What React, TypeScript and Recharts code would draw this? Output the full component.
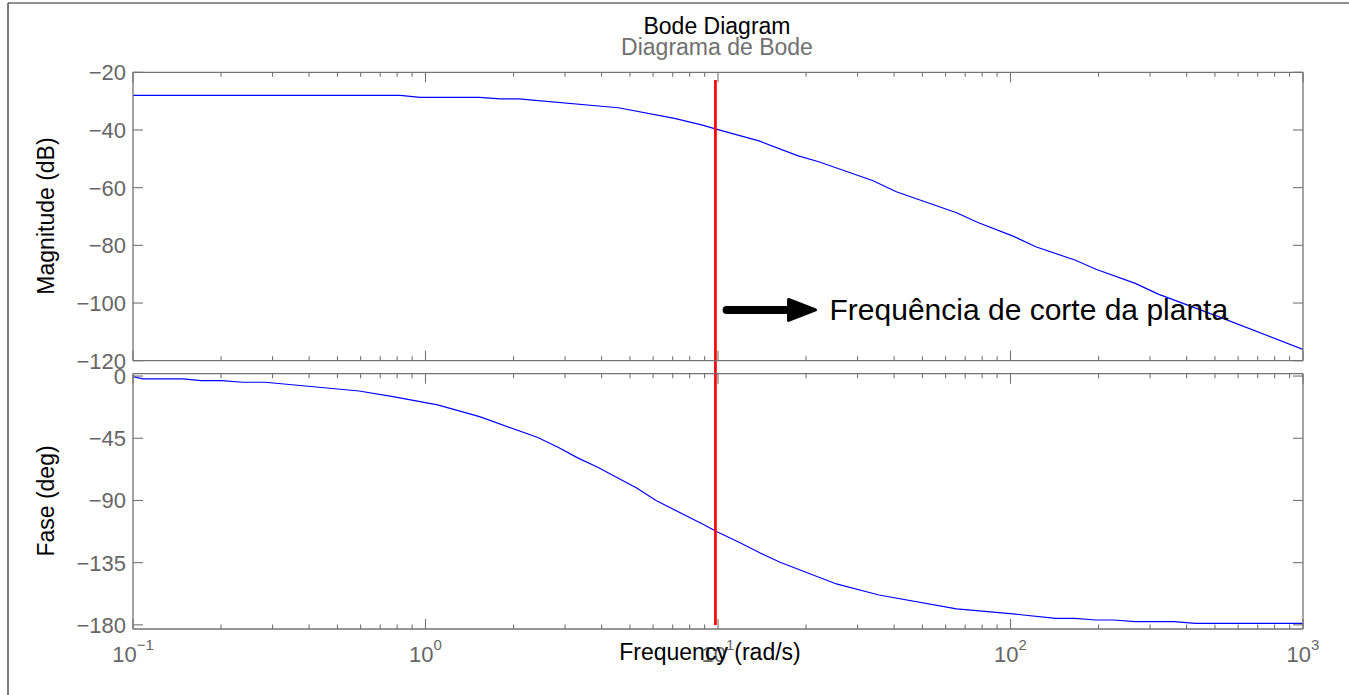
import React from "react";
import { LineChart, Line, XAxis, YAxis, ReferenceLine } from "recharts";

// magnitude curve (rad/s, dB)
const magFreq = [0.1, 0.82, 0.96, 1.53, 1.8, 2.08, 4.56, 7.1, 8.85, 10, 13.8, 18.7, 22.1, 33.9, 40.7, 65.4, 77.4, 102, 122, 166, 196, 267, 320, 514, 1000];
const magDb = [-28, -28, -28.7, -28.7, -29.2, -29.2, -32.3, -36, -38.3, -39.9, -43.8, -48.9, -51, -57.6, -61.4, -68.7, -72.1, -76.8, -80.5, -85.1, -88.3, -93.2, -96.9, -104.7, -116.1];

// phase curve (rad/s, deg)
const phaseFreq = [0.1, 0.108, 0.148, 0.171, 0.201, 0.237, 0.283, 0.593, 0.774, 1.1, 1.53, 2.41, 2.84, 3.3, 3.88, 5.29, 6.14, 8.85, 10, 11.8, 14, 16.3, 25.4, 35.5, 65.4, 102, 143, 166, 196, 225, 267, 362, 429, 1000];
const phaseDeg = [-0.4, -2.1, -2.1, -3.3, -3.3, -4.5, -4.5, -10.8, -14.9, -20.9, -29.4, -44.3, -51.5, -59, -66, -81.2, -90.1, -107, -113, -120.3, -128.2, -134.7, -150.4, -158.4, -168.5, -172.1, -175.3, -175.3, -176.5, -176.5, -177.7, -177.7, -178.9, -178.9];

const decadeTicks = [0.1, 1, 10, 100, 1000];
const decadeExp = ["\u22121", "0", "1", "2", "3"];
const xTicks = [
  0.1, 0.2, 0.3, 0.4, 0.5, 0.6, 0.7, 0.8, 0.9,
  1, 2, 3, 4, 5, 6, 7, 8, 9,
  10, 20, 30, 40, 50, 60, 70, 80, 90,
  100, 200, 300, 400, 500, 600, 700, 800, 900,
  1000,
];
const magTicks = [-120, -100, -80, -60, -40, -20];
const phaseTicks = [-180, -135, -90, -45, 0];

const cutoffFreq = 9.8;
const arrowStart = 10.7;
const arrowEnd = 17.7;
const arrowDb = -102.4;

const magData = magFreq.map((f, i) => ({ f, v: magDb[i] }));
const phaseData = phaseFreq.map((f, i) => ({ f, v: phaseDeg[i] }));

const W = 1349;
const H = 695;
const FONT = '"Liberation Sans", Arial, Helvetica, sans-serif';
const AXIS = "#737373";
const LABEL = "#666666";
const PLOT_L = 133;
const PLOT_R = 1303;

const fmtNum = (v: number) => (v < 0 ? "\u2212" + Math.abs(v) : String(v));

const XTick = (props: any) => {
  const { x, y, payload, side, labels } = props;
  const v = payload.value;
  const k = decadeTicks.findIndex((d) => Math.abs(d - v) / d < 1e-6);
  const len = k >= 0 ? 10 : 4.5;
  const dir = side === "top" ? 1 : -1;
  return (
    <g>
      <line x1={x} x2={x} y1={y} y2={y + dir * len} stroke={AXIS} strokeWidth={1.1} />
      {labels && k >= 0 && (
        <text x={x} y={y + 33} textAnchor="middle" fill={LABEL} fontFamily={FONT}>
          <tspan fontSize={22}>10</tspan>
          <tspan fontSize={15} dy={-12}>{decadeExp[k]}</tspan>
        </text>
      )}
    </g>
  );
};

const YTick = (props: any) => {
  const { x, y, payload, side } = props;
  const dir = side === "left" ? 1 : -1;
  return (
    <g>
      <line x1={x} x2={x + dir * 10} y1={y} y2={y} stroke={AXIS} strokeWidth={1.1} />
      {side === "left" && (
        <text x={x - 7} y={y} dy="0.358em" textAnchor="end" fontSize={22} fill={LABEL} fontFamily={FONT}>
          {fmtNum(payload.value)}
        </text>
      )}
    </g>
  );
};

const ArrowNote = (props: any) => {
  const { x1, y1, x2 } = props;
  return (
    <g>
      <line x1={x1} y1={y1} x2={x2} y2={y1} stroke="#000" strokeWidth={8} strokeLinecap="round" />
      <path
        d={`M${x2 - 2},${y1 - 10.5} L${x2 + 25},${y1} L${x2 - 2},${y1 + 10.5} Z`}
        fill="#000"
        stroke="#000"
        strokeWidth={3}
        strokeLinejoin="round"
      />
      <text x={x2 + 39} y={y1 + 10} fontSize={30} fill="#000" fontFamily={FONT}>
        Frequência de corte da planta
      </text>
    </g>
  );
};

function boxAxes(yDomain: number[], yTicks: number[], showXLabels: boolean) {
  const axisLine = { stroke: AXIS, strokeWidth: 1.3 };
  return [
    <XAxis
      key="xb"
      xAxisId="b"
      orientation="bottom"
      dataKey="f"
      type="number"
      scale="log"
      domain={[0.1, 1000]}
      allowDataOverflow
      ticks={xTicks}
      interval={0}
      height={1}
      tickSize={0}
      tickMargin={0}
      tickLine={false}
      axisLine={axisLine}
      tick={(p: any) => <XTick {...p} side="bottom" labels={showXLabels} />}
    />,
    <XAxis
      key="xt"
      xAxisId="t"
      orientation="top"
      dataKey="f"
      type="number"
      scale="log"
      domain={[0.1, 1000]}
      allowDataOverflow
      ticks={xTicks}
      interval={0}
      height={1}
      tickSize={0}
      tickMargin={0}
      tickLine={false}
      axisLine={axisLine}
      tick={(p: any) => <XTick {...p} side="top" labels={false} />}
    />,
    <YAxis
      key="yl"
      yAxisId="l"
      orientation="left"
      type="number"
      domain={yDomain}
      allowDataOverflow
      ticks={yTicks}
      interval={0}
      width={1}
      tickSize={0}
      tickMargin={0}
      tickLine={false}
      axisLine={axisLine}
      tick={(p: any) => <YTick {...p} side="left" />}
    />,
    <YAxis
      key="yr"
      yAxisId="r"
      orientation="right"
      type="number"
      domain={yDomain}
      allowDataOverflow
      ticks={yTicks}
      interval={0}
      width={1}
      tickSize={0}
      tickMargin={0}
      tickLine={false}
      axisLine={axisLine}
      tick={(p: any) => <YTick {...p} side="right" />}
    />,
  ];
}

const margins = (top: number, bottom: number) => ({
  top: top - 1,
  bottom: H - bottom - 1,
  left: PLOT_L - 1,
  right: W - PLOT_R - 1,
});

export default function App() {
  const layer: React.CSSProperties = { position: "absolute", left: 0, top: 0 };
  return (
    <div style={{ position: "absolute", left: 0, top: 0, width: W, height: H, background: "#fff", fontFamily: FONT }}>
      <div style={layer}>
        <LineChart width={W} height={H} data={magData} margin={margins(72.3, 360.7)}>
          {boxAxes([-120, -20], magTicks, false)}
          <Line
            xAxisId="b"
            yAxisId="l"
            type="linear"
            dataKey="v"
            stroke="#0000ff"
            strokeWidth={1.2}
            dot={false}
            isAnimationActive={false}
          />
          <ReferenceLine
            xAxisId="b"
            yAxisId="l"
            segment={[{ x: cutoffFreq, y: -22.7 }, { x: cutoffFreq, y: -125 }]}
            stroke="#ff0000"
            strokeWidth={2.7}
            ifOverflow="visible"
          />
          <ReferenceLine
            xAxisId="b"
            yAxisId="l"
            segment={[{ x: arrowStart, y: arrowDb }, { x: arrowEnd, y: arrowDb }]}
            shape={(p: any) => <ArrowNote {...p} />}
          />
        </LineChart>
      </div>
      <div style={layer}>
        <LineChart width={W} height={H} data={phaseData} margin={margins(373.7, 629)}>
          {boxAxes([-183, 1.7], phaseTicks, true)}
          <Line
            xAxisId="b"
            yAxisId="l"
            type="linear"
            dataKey="v"
            stroke="#0000ff"
            strokeWidth={1.2}
            dot={false}
            isAnimationActive={false}
          />
          <ReferenceLine
            xAxisId="b"
            yAxisId="l"
            segment={[{ x: cutoffFreq, y: 1.7 }, { x: cutoffFreq, y: -180.2 }]}
            stroke="#ff0000"
            strokeWidth={2.7}
            ifOverflow="visible"
          />
        </LineChart>
      </div>
      <svg width={W} height={H} style={{ ...layer, pointerEvents: "none" }}>
        <line x1={8} y1={3} x2={8} y2={H} stroke="#222" strokeWidth={1.2} />
        <line x1={8} y1={3} x2={W} y2={3} stroke="#222" strokeWidth={1.2} />
        <text x={717} y={34} textAnchor="middle" fontSize={23} fill="#000" fontFamily={FONT}>
          Bode Diagram
        </text>
        <text x={717} y={55} textAnchor="middle" fontSize={23} fill="#707070" fontFamily={FONT}>
          Diagrama de Bode
        </text>
        <text x={710} y={660} textAnchor="middle" fontSize={23} fill="#000" fontFamily={FONT}>
          Frequency (rad/s)
        </text>
        <text
          x={54}
          y={216}
          transform="rotate(-90 54 216)"
          textAnchor="middle"
          fontSize={23}
          fill="#000"
          fontFamily={FONT}
        >
          Magnitude (dB)
        </text>
        <text
          x={54}
          y={501}
          transform="rotate(-90 54 501)"
          textAnchor="middle"
          fontSize={23}
          fill="#000"
          fontFamily={FONT}
        >
          Fase (deg)
        </text>
      </svg>
    </div>
  );
}
